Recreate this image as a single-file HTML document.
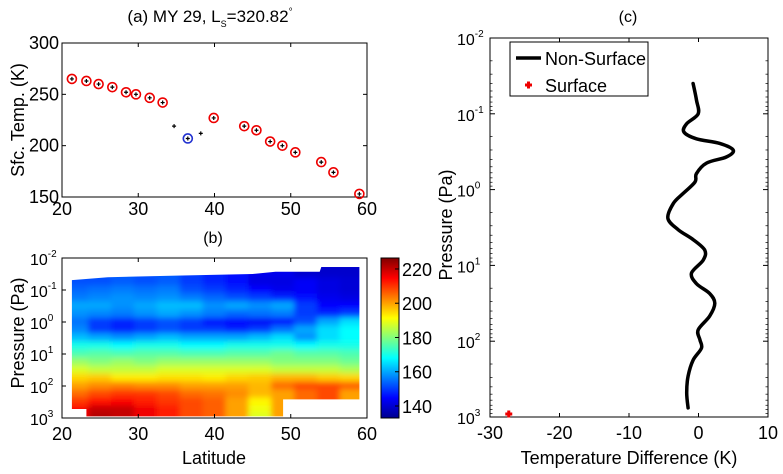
<!DOCTYPE html>
<html><head><meta charset="utf-8"><style>
html,body{margin:0;padding:0;background:#fff}
svg{display:block;font-family:"Liberation Sans",sans-serif}
</style></head><body>
<svg id="fig" width="783" height="474" viewBox="0 0 783 474" xmlns="http://www.w3.org/2000/svg">
<defs>
<clipPath id="clipB"><path id="clipPath" d=""/></clipPath>
<filter id="blur" x="-5%" y="-5%" width="110%" height="110%"><feGaussianBlur stdDeviation="3"/></filter>
<linearGradient id="jetGrad" x1="0" y1="1" x2="0" y2="0">
<stop offset="0" stop-color="#00008f"/><stop offset="0.125" stop-color="#0000ff"/>
<stop offset="0.375" stop-color="#00ffff"/><stop offset="0.625" stop-color="#ffff00"/>
<stop offset="0.875" stop-color="#ff0000"/><stop offset="1" stop-color="#800000"/>
</linearGradient>
</defs>
<g id="gA"></g>
<g id="gB"></g>
<g id="gC"></g>
</svg>
<script>
// ---- Panel (a) data ----
const aLat = [21.3,23.2,24.8,26.6,28.4,29.7,31.5,33.2,39.9,43.9,45.5,47.3,48.9,50.6,54.0,55.6,59.0];
const aTemp = [265,263,260,257,252,250,246.6,242,227,219,215,204,200,193.5,184,174,153];
const aBlueLat = [36.5];
const aBlueTemp = [207];
const aPlusLat = [34.7,38.2];
const aPlusTemp = [219,212];
const aXTicks = [20,30,40,50,60];
const aYTicks = [150,200,250,300];
// ---- Panel (b) data ----
const bLats = [22,25,28,31,34,37,40,43,46,49,52,55,58];
const bLogP = [-1.75,-1.5,-1.25,-1,-0.75,-0.5,-0.25,0,0.25,0.5,0.75,1,1.25,1.5,1.75,2,2.25,2.5,2.75,3];
const N=null;
const bRow0=[N,N,N,N,N,N,N,N,N,N,N,140,140];
const bRow1=[N,N,N,N,N,N,N,N,143,143,140,140,140];
const bRow2=[152,152,153,152,153,150,148,146,142,142,144,142,141];
const bRow3=[154,155,156,155,156,152,150,148,145,143,144,142,141];
const bRow4=[156,157,158,157,158,156,154,152,150,148,146,143,142];
const bRow5=[160,160,158,160,162,162,158,160,158,160,150,145,145];
const bRow6=[158,157,156,158,160,158,156,154,155,156,150,148,150];
const bRow7=[155,150,148,150,152,150,146,145,144,145,152,160,165];
const bRow8=[157,150,148,150,152,150,150,148,150,155,160,165,168];
const bRow9=[162,160,158,160,162,160,160,160,162,165,158,165,168];
const bRow10=[170,170,168,170,170,168,168,170,170,170,168,170,170];
const bRow11=[175,176,175,176,176,175,175,176,176,178,176,176,175];
const bRow12=[182,180,182,180,182,182,182,182,182,180,180,180,178];
const bRow13=[188,186,186,186,188,188,188,188,188,186,186,186,184];
const bRow14=[195,196,193,193,194,194,193,195,196,198,198,196,195];
const bRow15=[200,202,203,202,202,200,200,200,198,205,208,208,206];
const bRow16=[205,208,210,210,208,205,204,202,198,200,205,208,200];
const bRow17=[210,214,215,212,210,208,206,200,192,N,N,N,N];
const bRow18=[215,220,220,216,212,208,206,200,190,N,N,N,N];
const bRow19=[N,222,220,216,212,208,206,200,188,N,N,N,N];
const bGrid=[bRow0,bRow1,bRow2,bRow3,bRow4,bRow5,bRow6,bRow7,bRow8,bRow9,bRow10,bRow11,bRow12,bRow13,bRow14,bRow15,bRow16,bRow17,bRow18,bRow19];
const cbTicks=[140,160,180,200,220];
const bPTicks=[-2,-1,0,1,2,3];
// ---- Panel (c) data ----
const cDiff=[-0.77,-0.29,-0.05,-1.7,-2.1,-0.3,3.07,5.0,4.0,1.15,-0.3,-0.5,-2.2,-3.6,-4.4,-2.9,-0.77,0.9,0.67,-1.0,-0.3,1.6,2.35,1.6,-0.05,0.2,0.43,-0.77,-1.5,-1.7,-1.5];
const cLogP=[-1.40,-1.18,-1.0,-0.87,-0.76,-0.67,-0.61,-0.52,-0.43,-0.35,-0.21,-0.10,0.05,0.18,0.38,0.53,0.66,0.80,0.93,1.10,1.24,1.37,1.50,1.67,1.85,1.98,2.09,2.25,2.46,2.68,2.88];
const cSurfDiff=[-27.3];
const cSurfLogP=[2.96];
const cXTicks=[-30,-20,-10,0,10];

const NS="http://www.w3.org/2000/svg";
function mk(parent,tag,attrs,name,text){const e=document.createElementNS(NS,tag);for(const k in attrs)e.setAttribute(k,attrs[k]);


if(text!==undefined)e.textContent=text;parent.appendChild(e);return e;}
function logLabel(parent,xr,y,exp,name){const t=mk(parent,'text',{x:xr-30,y:y,'font-size':16},name);
const a=document.createElementNS(NS,'tspan');a.textContent='10';t.appendChild(a);
const b=document.createElementNS(NS,'tspan');b.setAttribute('dy','-8');b.setAttribute('font-size','10');b.textContent=String(exp);t.appendChild(b);}
function jet(v){let t=(v-133)/(226.4-133);t=Math.max(0,Math.min(1,t));
const r=Math.max(0,Math.min(1,Math.min(4*t-1.5,-4*t+4.5)));const g=Math.max(0,Math.min(1,Math.min(4*t-0.5,-4*t+3.5)));const b=Math.max(0,Math.min(1,Math.min(4*t+0.5,-4*t+2.5)));
return `rgb(${Math.round(r*255)},${Math.round(g*255)},${Math.round(b*255)})`;}

// ===== Panel A =====
const gA=document.getElementById('gA');
const aL=62,aR=367,aT=43,aB=197;
const ax=v=>aL+(v-20)/40*(aR-aL), ay=v=>aB-(v-150)/150*(aB-aT);
mk(gA,'rect',{x:aL,y:aT,width:aR-aL,height:aB-aT,fill:'#fff',stroke:'#000','stroke-width':1},'plot-area-a');
aXTicks.forEach(v=>{mk(gA,'line',{x1:ax(v),x2:ax(v),y1:aB,y2:aB-4,stroke:'#000'},'x-tick-a');mk(gA,'line',{x1:ax(v),x2:ax(v),y1:aT,y2:aT+4,stroke:'#000'},'x-tick-a-top');
mk(gA,'text',{x:ax(v),y:aB+18,'text-anchor':'middle','font-size':18},'x-tick-label-a',String(v));});
aYTicks.forEach(v=>{mk(gA,'line',{x1:aL,x2:aL+4,y1:ay(v),y2:ay(v),stroke:'#000'},'y-tick-a');mk(gA,'line',{x1:aR,x2:aR-4,y1:ay(v),y2:ay(v),stroke:'#000'},'y-tick-a-right');
mk(gA,'text',{x:aL-3,y:ay(v)+6,'text-anchor':'end','font-size':18},'y-tick-label-a',String(v));});
aLat.forEach((v,i)=>{mk(gA,'circle',{cx:ax(v),cy:ay(aTemp[i]),r:4.5,fill:'none',stroke:'#e00','stroke-width':1.6},'surface-point');
mk(gA,'path',{d:`M${ax(v)-2},${ay(aTemp[i])}h4M${ax(v)},${ay(aTemp[i])-2}v4`,stroke:'#000','stroke-width':1.2},'surface-point-plus');});
aBlueLat.forEach((v,i)=>{mk(gA,'circle',{cx:ax(v),cy:ay(aBlueTemp[i]),r:4.5,fill:'none',stroke:'#2030d0','stroke-width':1.6},'selected-point');
mk(gA,'path',{d:`M${ax(v)-2},${ay(aBlueTemp[i])}h4M${ax(v)},${ay(aBlueTemp[i])-2}v4`,stroke:'#000','stroke-width':1.2},'selected-point-plus');});
aPlusLat.forEach((v,i)=>{mk(gA,'path',{d:`M${ax(v)-2},${ay(aPlusTemp[i])}h4M${ax(v)},${ay(aPlusTemp[i])-2}v4`,stroke:'#000','stroke-width':1.2},'unflagged-point');});
const tA=mk(gA,'text',{x:210,y:22,'text-anchor':'middle','font-size':17},'panel-a-title');
tA.innerHTML='(a) MY 29, L<tspan font-size="9" dy="5">S</tspan><tspan dy="-5">=320.82</tspan><tspan font-size="10" dy="-7">°</tspan>';
mk(gA,'text',{x:0,y:0,'text-anchor':'middle','font-size':18,transform:`translate(24,120) rotate(-90)`},'y-axis-title-a','Sfc. Temp. (K)');

// ===== Panel B =====
const gB=document.getElementById('gB');
const bL=62,bR=367,bT=258,bB=418;
const bx=v=>bL+(v-20)/40*(bR-bL), by=v=>bT+(v+2)/5*(bB-bT);
mk(gB,'rect',{x:bL,y:bT,width:bR-bL,height:bB-bT,fill:'#fff',stroke:'none'},'plot-area-b');
const shape=[[21.3,-1.31],[26,-1.4],[35,-1.45],[45,-1.5],[48,-1.57],[53.8,-1.57],[54,-1.72],[59,-1.72],[59,2.42],[49,2.42],[49,2.95],[23.2,2.95],[23.2,2.72],[21.3,2.72]];
document.getElementById('clipPath').setAttribute('d','M'+shape.map(p=>bx(p[0]).toFixed(1)+','+by(p[1]).toFixed(1)).join('L')+'Z');
const hm=mk(gB,'g',{'clip-path':'url(#clipB)'},'heatmap-clip');
const hb=mk(hm,'g',{filter:'url(#blur)'},'heatmap');
bGrid.forEach((row,ri)=>row.forEach((v0,ci)=>{let v=v0;
if(v===null){for(let k=1;k<bGrid.length&&v===null;k++){const up=bGrid[ri-k],dn=bGrid[ri+k];if(dn&&dn[ci]!==null)v=dn[ci];else if(up&&up[ci]!==null)v=up[ci];}}
if(v===null)return;
mk(hb,'rect',{x:bx(bLats[ci]-1.5)-0.5,y:by(bLogP[ri]-0.125)-0.5,width:bx(3)-bx(0)+1,height:by(0.25)-by(0)+1,fill:jet(v)},'heatmap-cell');
if(ci===0)mk(hb,'rect',{x:bx(15),y:by(bLogP[ri]-0.125)-0.5,width:bx(20.5)-bx(15)+0.5,height:by(0.25)-by(0)+1,fill:jet(v)},'heatmap-cell-pad');
if(ci===row.length-1)mk(hb,'rect',{x:bx(59.5)-0.5,y:by(bLogP[ri]-0.125)-0.5,width:bx(65)-bx(59.5),height:by(0.25)-by(0)+1,fill:jet(v)},'heatmap-cell-pad');
}));
mk(gB,'rect',{x:bL,y:bT,width:bR-bL,height:bB-bT,fill:'none',stroke:'#000'},'plot-frame-b');
aXTicks.forEach(v=>{mk(gB,'line',{x1:bx(v),x2:bx(v),y1:bB,y2:bB-4,stroke:'#000'},'x-tick-b');mk(gB,'line',{x1:bx(v),x2:bx(v),y1:bT,y2:bT+4,stroke:'#000'},'x-tick-b-top');
mk(gB,'text',{x:bx(v),y:bB+22,'text-anchor':'middle','font-size':18},'x-tick-label-b',String(v));});
bPTicks.forEach(e=>{mk(gB,'line',{x1:bL,x2:bL+4,y1:by(e),y2:by(e),stroke:'#000'},'y-tick-b');logLabel(gB,bL-2,by(e)+7,e,'y-tick-label-b');});
mk(gB,'text',{x:213,y:243,'text-anchor':'middle','font-size':16},'panel-b-title','(b)');
mk(gB,'text',{x:214,y:464,'text-anchor':'middle','font-size':18},'x-axis-title-b','Latitude');
mk(gB,'text',{x:0,y:0,'text-anchor':'middle','font-size':18,transform:`translate(24,333) rotate(-90)`},'y-axis-title-b','Pressure (Pa)');
mk(gB,'rect',{x:381,y:258,width:18,height:160,fill:'url(#jetGrad)',stroke:'#000'},'colorbar');
const cby=v=>418-(v-133)/(226.4-133)*160;
cbTicks.forEach(v=>{mk(gB,'line',{x1:395,x2:399,y1:cby(v),y2:cby(v),stroke:'#000'},'colorbar-tick');
mk(gB,'text',{x:402,y:cby(v)+7,'font-size':18},'colorbar-label',String(v));});

// ===== Panel C =====
const gC=document.getElementById('gC');
const cL=490,cR=768,cT=38,cB=417;
const cx=v=>cL+(v+30)/40*(cR-cL), cy=v=>cT+(v+2)/5*(cB-cT);
mk(gC,'rect',{x:cL,y:cT,width:cR-cL,height:cB-cT,fill:'#fff',stroke:'#000'},'plot-area-c');
cXTicks.forEach(v=>{mk(gC,'line',{x1:cx(v),x2:cx(v),y1:cB,y2:cB-4,stroke:'#000'},'x-tick-c');mk(gC,'line',{x1:cx(v),x2:cx(v),y1:cT,y2:cT+4,stroke:'#000'},'x-tick-c-top');
mk(gC,'text',{x:cx(v),y:cB+22,'text-anchor':'middle','font-size':18},'x-tick-label-c',String(v));});
bPTicks.forEach(e=>{mk(gC,'line',{x1:cL,x2:cL+5,y1:cy(e),y2:cy(e),stroke:'#000'},'y-tick-c');mk(gC,'line',{x1:cR,x2:cR-5,y1:cy(e),y2:cy(e),stroke:'#000'},'y-tick-c-right');
logLabel(gC,cL-3,cy(e)+7,e,'y-tick-label-c');
if(e<3)for(let m=2;m<10;m++){const yy=cy(e+Math.log10(m));mk(gC,'line',{x1:cL,x2:cL+2.5,y1:yy,y2:yy,stroke:'#000','stroke-width':0.7},'minor-tick-c');mk(gC,'line',{x1:cR,x2:cR-2.5,y1:yy,y2:yy,stroke:'#000','stroke-width':0.7},'minor-tick-c-right');}});
// smooth Catmull-Rom path through data points
const pts=cDiff.map((v,i)=>[cx(v),cy(cLogP[i])]);
let d='M'+pts[0][0].toFixed(1)+','+pts[0][1].toFixed(1);
for(let i=0;i<pts.length-1;i++){const p0=pts[i-1]||pts[i],p1=pts[i],p2=pts[i+1],p3=pts[i+2]||p2;
const c1=[p1[0]+(p2[0]-p0[0])/6,p1[1]+(p2[1]-p0[1])/6],c2=[p2[0]-(p3[0]-p1[0])/6,p2[1]-(p3[1]-p1[1])/6];
d+=`C${c1[0].toFixed(1)},${c1[1].toFixed(1)} ${c2[0].toFixed(1)},${c2[1].toFixed(1)} ${p2[0].toFixed(1)},${p2[1].toFixed(1)}`;}
mk(gC,'path',{d:d,fill:'none',stroke:'#000','stroke-width':3.5,'stroke-linejoin':'round','stroke-linecap':'round'},'non-surface-line');
cSurfDiff.forEach((v,i)=>{mk(gC,'path',{d:`M${cx(v)-3.5},${cy(cSurfLogP[i])}h7M${cx(v)},${cy(cSurfLogP[i])-3.5}v7`,stroke:'#e00','stroke-width':3},'surface-marker');});
const lg=mk(gC,'g',{},'legend');
mk(lg,'rect',{x:510,y:42,width:138,height:54,fill:'#fff',stroke:'#000'},'legend-box');
mk(lg,'line',{x1:516,x2:541,y1:58,y2:58,stroke:'#000','stroke-width':3.5},'legend-line-swatch');
mk(lg,'text',{x:545,y:65,'font-size':18},'legend-entry-non-surface','Non-Surface');
mk(lg,'path',{d:'M525,85h7M528.5,81.5v7',stroke:'#e00','stroke-width':3},'legend-marker-swatch');
mk(lg,'text',{x:545,y:92,'font-size':18},'legend-entry-surface','Surface');
mk(gC,'text',{x:628,y:22,'text-anchor':'middle','font-size':16},'panel-c-title','(c)');
mk(gC,'text',{x:629,y:464,'text-anchor':'middle','font-size':18},'x-axis-title-c','Temperature Difference (K)');
mk(gC,'text',{x:0,y:0,'text-anchor':'middle','font-size':18,transform:`translate(452,225) rotate(-90)`},'y-axis-title-c','Pressure (Pa)');
</script>
</body></html>
